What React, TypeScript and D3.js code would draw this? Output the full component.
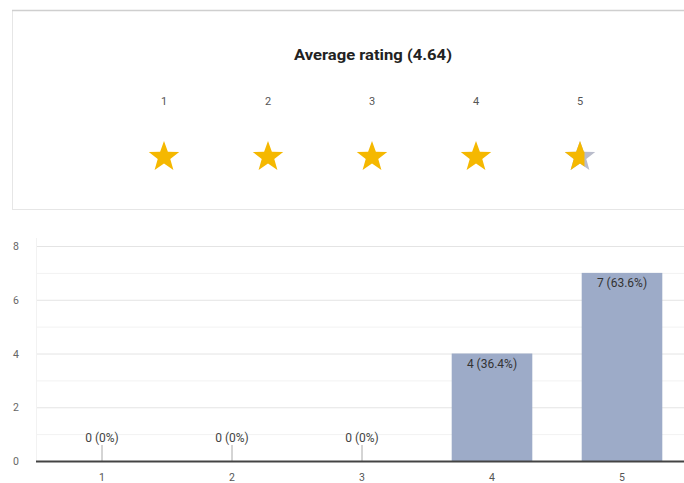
import React from "react";
import * as d3 from "d3";

const ratings = ["1", "2", "3", "4", "5"];
const counts = [0, 0, 0, 4, 7];
const yTicks = [0, 2, 4, 6, 8];
const averageRating = 4.64;

const W = 684;
const H = 483;

function starPath(cx: number, cy: number, R: number, r: number) {
  const pts: [number, number][] = [];
  for (let i = 0; i < 10; i++) {
    const a = -Math.PI / 2 + (i * Math.PI) / 5;
    const rad = i % 2 === 0 ? R : r;
    pts.push([cx + rad * Math.cos(a), cy + rad * Math.sin(a)]);
  }
  return "M" + pts.map((p) => p.join(",")).join("L") + "Z";
}

export default function App() {
  const total = d3.sum(counts);
  const x = d3.scaleBand<string>().domain(ratings).range([37, 687]).paddingInner(0.38).paddingOuter(0.19);
  const y = d3.scaleLinear().domain([0, 8]).range([461, 246]);
  const starX = d3.scalePoint<string>().domain(ratings).range([164, 580]);
  const grid = d3.range(1, 9);
  const fmtPct = (v: number) => {
    const p = total ? (v / total) * 100 : 0;
    return p === 0 ? "0%" : d3.format(".1f")(p) + "%";
  };
  const R = 16;
  const r = 6.6;
  const sy = 157;
  return (
    <div style={{ position: "absolute", left: 0, top: 0 }}>
      <svg width={W} height={H} style={{ display: "block", fontFamily: "Roboto, Arial, sans-serif" }}>
        <rect x={0} y={0} width={W} height={H} fill="#ffffff" />
        {/* top card */}
        <rect x={12.5} y={10.5} width={W} height={199} fill="#fff" stroke="#e6e6e6" />
        <line x1={12} x2={W} y1={10.5} y2={10.5} stroke="#cfcfcf" strokeWidth={1.5} />
        <text x={373} y={60} textAnchor="middle" fontSize={14} fontWeight="bold" fill="#222" textLength={158} lengthAdjust="spacingAndGlyphs">
          Average rating ({averageRating.toFixed(2)})
        </text>
        <defs>
          <clipPath id="halfclip">
            <rect x={starX("5")! - R} y={130} width={2 * R * (averageRating - 4)} height={50} />
          </clipPath>
        </defs>
        {ratings.map((rt, i) => {
          const cx = starX(rt)!;
          const full = averageRating >= i + 1;
          return (
            <g key={rt}>
              <text x={cx} y={105} textAnchor="middle" fontSize={11} fill="#555">{rt}</text>
              {full ? (
                <path d={starPath(cx, sy, R, r)} fill="#f5b800" />
              ) : (
                <g>
                  <path d={starPath(cx, sy, R, r)} fill="#b9bccb" />
                  <path d={starPath(cx, sy, R, r)} fill="#f5b800" clipPath="url(#halfclip)" />
                </g>
              )}
            </g>
          );
        })}
        {/* gridlines */}
        {grid.map((g) => (
          <line key={g} x1={36} x2={W} y1={y(g) + 0.5} y2={y(g) + 0.5} stroke={g % 2 === 0 ? "#e4e4e4" : "#f2f2f2"} />
        ))}
        <line x1={36.5} x2={36.5} y1={238} y2={461} stroke="#f2f2f2" />
        {yTicks.map((t) => (
          <text key={t} x={16} y={y(t) + 4} textAnchor="middle" fontSize={10.5} fill="#666">{t}</text>
        ))}
        {/* bars */}
        {ratings.map((rt, i) => {
          const v = counts[i];
          const bx = x(rt)!;
          const bw = x.bandwidth();
          const cx = bx + bw / 2;
          const label = `${v} (${fmtPct(v)})`;
          return (
            <g key={rt}>
              {v > 0 ? (
                <>
                  <rect x={bx} y={y(v)} width={bw} height={y(0) - y(v)} fill="#9dabc8" />
                  <text x={cx} y={y(v) + 14} textAnchor="middle" fontSize={12} fill="#333">{label}</text>
                </>
              ) : (
                <>
                  <line x1={cx} x2={cx} y1={445} y2={461} stroke="#aaa" />
                  <text x={cx} y={442} textAnchor="middle" fontSize={12} fill="#444">{label}</text>
                </>
              )}
              <text x={cx} y={481} textAnchor="middle" fontSize={10.5} fill="#555">{rt}</text>
            </g>
          );
        })}
        <line x1={36} x2={W} y1={461.5} y2={461.5} stroke="#444" strokeWidth={2} />
      </svg>
    </div>
  );
}
